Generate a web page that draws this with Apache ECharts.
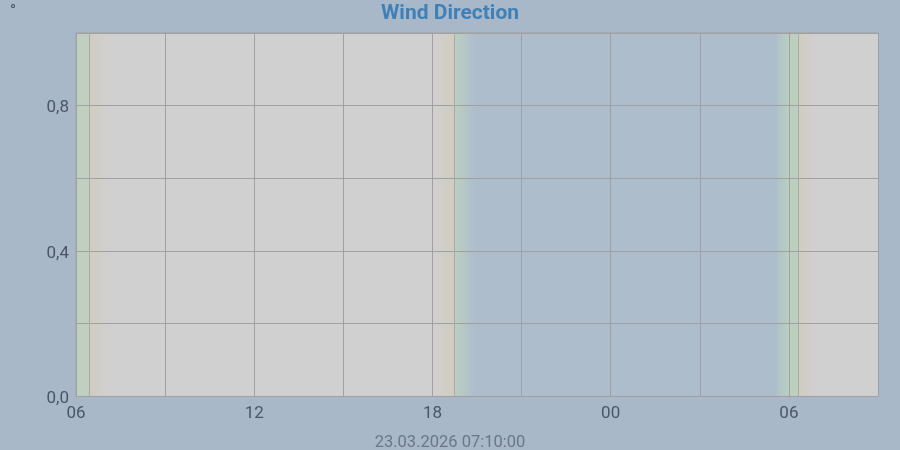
<!DOCTYPE html>
<html><head><meta charset="utf-8">
<script src="https://cdn.jsdelivr.net/npm/echarts@6/dist/echarts.min.js"></script>
<style>html,body{margin:0;padding:0;background:#a9b8c8;}#c{width:900px;height:450px;}</style>
</head><body><div id="c"></div>
<script>
// time in hours from midnight of first day
const xMin = 6, xMax = 33;
const yMin = 0, yMax = 1;
const xLabelHours = [6, 12, 18, 24, 30];
const yLabelValues = [0, 0.4, 0.8];
// day/night shading bands: [start, end, colourStart, colourEnd]
const bandStarts = [6.0, 6.43, 7.1, 18.0, 18.73, 19.43, 29.6, 30.0, 30.33, 30.9];
const bandEnds   = [6.43, 7.1, 18.0, 18.73, 19.43, 29.6, 30.0, 30.33, 30.9, 33.0];
const bandFrom   = ['#bfd0c0','#d0ccc0','#d0d0d0','#d0d0d0','#bdd0be','#aebdcc','#afc3c8','#bdd0c0','#d0ccc0','#d0d0d0'];
const bandTo     = ['#bfd0c0','#d0d0d0','#d0d0d0','#d0ccc0','#aebdcc','#aebdcc','#bacec2','#bdd0c0','#d0d0d0','#d0d0d0'];
const sunLines = [6.43, 18.73, 30.33];
const titleText = 'Wind Direction';
const unitText = '°';
const stampText = '23.03.2026 07:10:00';

const span = xMax - xMin;
const stops = [];
bandStarts.forEach((s, i) => {
  stops.push({ offset: (s - xMin) / span + (i ? 1e-6 : 0), color: bandFrom[i] });
  stops.push({ offset: (bandEnds[i] - xMin) / span, color: bandTo[i] });
});

const chart = echarts.init(document.getElementById('c'));
chart.setOption({
  backgroundColor: '#a9b8c8',
  animation: false,
  title: { text: titleText, left: 'center', top: -2,
    textStyle: { color: '#3f80b9', fontSize: 21, fontWeight: 'bold', fontFamily: 'Roboto' } },
  graphic: [
    { type: 'text', left: 10, top: 4, style: { text: unitText, fill: '#4a5565', font: '16px Roboto' } },
    { type: 'text', left: 'center', top: 434, style: { text: stampText, fill: '#6b7686', font: '16.5px Roboto' } }
  ],
  grid: { left: 76, right: 22, top: 33, bottom: 54, show: true, borderColor: '#a0a0a0', borderWidth: 1, backgroundColor: 'transparent' },
  xAxis: {
    type: 'value', min: xMin, max: xMax, interval: 3, z: 5,
    axisLine: { show: false }, axisTick: { show: false },
    splitLine: { show: true, lineStyle: { color: '#a0a0a0', width: 1 } },
    axisLabel: { color: '#4a5565', fontSize: 17, fontFamily: 'Roboto', margin: 9,
      formatter: v => xLabelHours.indexOf(v) >= 0 ? String(v % 24).padStart(2, '0') : '' }
  },
  yAxis: {
    type: 'value', min: yMin, max: yMax, interval: 0.2, z: 5,
    axisLine: { show: false }, axisTick: { show: false },
    splitLine: { show: true, lineStyle: { color: '#a0a0a0', width: 1 } },
    axisLabel: { color: '#4a5565', fontSize: 17, fontFamily: 'Roboto', margin: 7, verticalAlign: 'top', lineHeight: 5,
      formatter: v => yLabelValues.some(t => Math.abs(t - v) < 1e-9) ? v.toFixed(1).replace('.', ',') : '' }
  },
  series: [{
    type: 'line', data: [], silent: true, z: 1,
    markArea: { silent: true, data: [[
      { xAxis: xMin, itemStyle: { color: { type: 'linear', x: 0, y: 0, x2: 1, y2: 0, colorStops: stops } } },
      { xAxis: xMax }
    ]] },
    markLine: { silent: true, symbol: 'none', label: { show: false },
      lineStyle: { color: '#a8aaa8', width: 1, type: 'solid', opacity: 1 },
      data: sunLines.map(h => ({ xAxis: h })) }
  }]
});
</script></body></html>
